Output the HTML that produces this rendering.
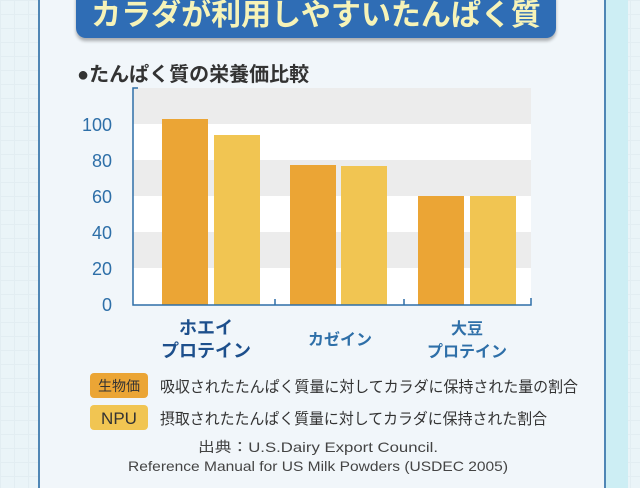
<!DOCTYPE html><html><head><meta charset="utf-8"><style>
body{margin:0;width:640px;height:488px;overflow:hidden;background:#eaf4f8;font-family:"Liberation Sans","Noto Sans CJK JP",sans-serif;position:relative}
.bg{position:absolute;inset:0;background-image:linear-gradient(#e2edf2 1px,transparent 1px),linear-gradient(90deg,#e2edf2 1px,transparent 1px);background-size:14px 14px}
.side{position:absolute;left:606px;top:0;width:22px;height:488px;background:#cdeef4}
.panel{position:absolute;left:38px;top:0;width:564px;height:488px;background:#f1f6fa;border-left:2px solid #4f86b5;border-right:2px solid #4f86b5}
.ban{position:absolute;left:76px;top:-12px;width:480px;height:50px;background:#2f6db5;border-radius:10px;box-shadow:0 3px 3px rgba(0,0,0,.3);color:#f6f3b8;font-weight:bold;font-size:30px;text-align:center;line-height:56px;letter-spacing:0px}
.t{position:absolute;font-weight:bold}
</style></head><body><div class="bg"></div><div class="side"></div><div class="panel"></div>
<div class="ban">カラダが利用しやすいたんぱく質</div>
<div class="t" style="left:77px;top:58px;font-size:20px;color:#333">●たんぱく質の栄養価比較</div>
<svg style="position:absolute;left:0;top:0" width="640" height="488">
<rect x="133" y="88" width="398" height="217" fill="#fff"/>
<rect x="133" y="88" width="398" height="36" fill="#ececec"/>
<rect x="133" y="160" width="398" height="36" fill="#ececec"/>
<rect x="133" y="232" width="398" height="36" fill="#ececec"/>
<g fill="#eba535"><rect x="162" y="119" width="46" height="186"/><rect x="290" y="165" width="46" height="140"/><rect x="418" y="196" width="46" height="109"/></g>
<g fill="#f1c552"><rect x="214" y="135" width="46" height="170"/><rect x="341" y="166" width="46" height="139"/><rect x="470" y="196" width="46" height="109"/></g>
<g stroke="#2e6fa8" stroke-width="1.5" fill="none"><path d="M138 88H133V305H531V298M275 305V299M404 305V299"/></g>
<g fill="#2e6fa8" font-size="18" text-anchor="end" font-family="Liberation Sans"><text x="112" y="131">100</text><text x="112" y="167">80</text><text x="112" y="203">60</text><text x="112" y="239">40</text><text x="112" y="275">20</text><text x="112" y="311">0</text></g>
<g font-weight="bold" text-anchor="middle"><text x="206" y="334" font-size="18" fill="#1d4f8c">ホエイ</text><text x="206" y="357" font-size="18" fill="#1d4f8c">プロテイン</text>
<text x="340" y="345" font-size="16" fill="#2e6fa8">カゼイン</text><text x="467" y="334" font-size="16" fill="#2e6fa8">大豆</text><text x="467" y="357" font-size="16" fill="#2e6fa8">プロテイン</text></g>
<rect x="90" y="373" width="58" height="25" rx="4" fill="#eba535"/><rect x="90" y="405" width="58" height="25" rx="4" fill="#f1c552"/>
<text x="119" y="391" font-size="14" text-anchor="middle" fill="#333">生物価</text><text x="119" y="424" font-size="17" text-anchor="middle" fill="#333">NPU</text>
<text x="160" y="392" font-size="15.5" fill="#333" textLength="418" lengthAdjust="spacingAndGlyphs">吸収されたたんぱく質量に対してカラダに保持された量の割合</text>
<text x="160" y="424" font-size="15.5" fill="#333" textLength="387" lengthAdjust="spacingAndGlyphs">摂取されたたんぱく質量に対してカラダに保持された割合</text>
<text x="318" y="452" font-size="14" text-anchor="middle" fill="#444" textLength="240" lengthAdjust="spacingAndGlyphs">出典：U.S.Dairy Export Council.</text>
<text x="318" y="471" font-size="14" text-anchor="middle" fill="#444" textLength="380" lengthAdjust="spacingAndGlyphs">Reference Manual for US Milk Powders (USDEC 2005)</text>
</svg></body></html>
